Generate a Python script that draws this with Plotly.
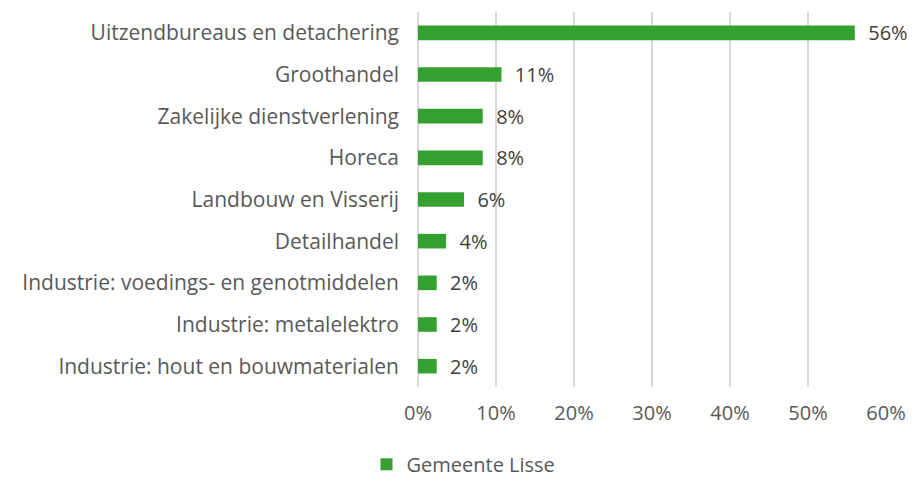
import plotly.graph_objects as go

categories = [
    "Uitzendbureaus en detachering",
    "Groothandel",
    "Zakelijke dienstverlening",
    "Horeca",
    "Landbouw en Visserij",
    "Detailhandel",
    "Industrie: voedings- en genotmiddelen",
    "Industrie: metalelektro",
    "Industrie: hout en bouwmaterialen",
]
values = [0.56, 0.107, 0.083, 0.083, 0.059, 0.036, 0.024, 0.024, 0.024]
series_name = "Gemeente Lisse"
x_ticks = [0, 0.1, 0.2, 0.3, 0.4, 0.5, 0.6]

font_family = "Open Sans, Liberation Sans, Arial, sans-serif"
text_color = "#595959"
bar_color = "#34A02F"
grid_color = "#D9D9D9"

fig = go.Figure(
    go.Bar(
        y=categories,
        x=values,
        orientation="h",
        name=series_name,
        marker=dict(color=bar_color, line=dict(width=0)),
        texttemplate="  %{x:.0%}",
        textposition="outside",
        constraintext="none",
        textfont=dict(size=20, color="#404040", family=font_family),
        cliponaxis=False,
        showlegend=True,
    )
)

fig.update_layout(
    width=911,
    height=469,
    margin=dict(l=410, r=33, t=4, b=90, autoexpand=False),
    paper_bgcolor="white",
    plot_bgcolor="white",
    bargap=0.65,
    font=dict(family=font_family, size=20, color=text_color),
    showlegend=True,
    legend=dict(
        orientation="h",
        xref="container",
        yref="container",
        x=0.5,
        xanchor="center",
        y=0.027,
        yanchor="middle",
        font=dict(size=20, color=text_color),
        itemwidth=30,
    ),
    xaxis=dict(
        range=[0, 0.6],
        tickvals=x_ticks,
        tickformat=".0%",
        showgrid=True,
        gridcolor=grid_color,
        gridwidth=1.5,
        zeroline=True,
        zerolinecolor=grid_color,
        zerolinewidth=1.5,
        showline=False,
        ticks="",
        ticklabelstandoff=12,
        tickfont=dict(size=20, color=text_color),
        fixedrange=True,
    ),
    yaxis=dict(
        autorange="reversed",
        showgrid=False,
        showline=False,
        zeroline=False,
        ticks="",
        ticklabelstandoff=18,
        tickfont=dict(size=21, color=text_color),
        automargin=False,
        fixedrange=True,
    ),
)

fig.write_html("out.html")
